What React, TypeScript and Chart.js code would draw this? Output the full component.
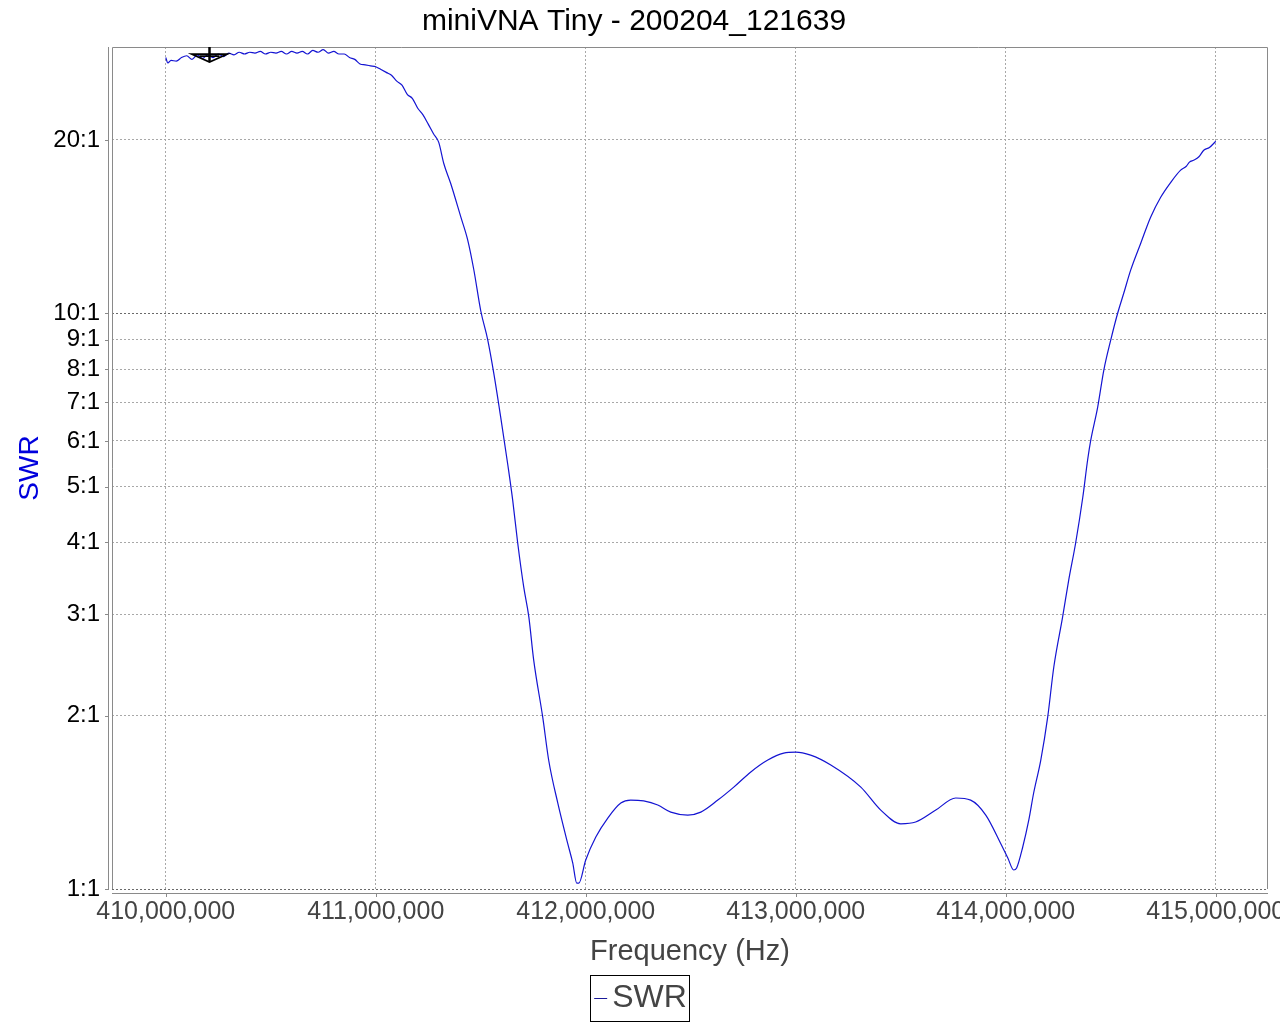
import React, { useEffect, useRef } from 'react';
import { Chart, registerables } from 'chart.js';

Chart.register(...registerables);

const chartTitle = 'miniVNA Tiny - 200204_121639';
const seriesName = 'SWR';
const xAxisTitle = 'Frequency (Hz)';
const yAxisTitle = 'SWR';

// Frequency in MHz
const freqMHz = [
  410.000, 410.010, 410.025, 410.050, 410.075, 410.100, 410.125, 410.150, 410.175, 410.200,
  410.225, 410.250, 410.275, 410.300, 410.325, 410.350, 410.375, 410.400, 410.425, 410.450,
  410.475, 410.500, 410.525, 410.550, 410.575, 410.600, 410.625, 410.650, 410.675, 410.700,
  410.725, 410.750, 410.775, 410.800, 410.825, 410.850, 410.875, 410.900, 410.925, 410.950,
  410.975, 411.000, 411.025, 411.050, 411.075, 411.100, 411.125, 411.150, 411.175, 411.200,
  411.225, 411.250, 411.275, 411.300, 411.324, 411.357, 411.405, 411.438, 411.467, 411.500,
  411.533, 411.562, 411.595, 411.629, 411.652, 411.676, 411.705, 411.729, 411.752, 411.795,
  411.824, 411.867, 411.914, 411.938, 411.957, 411.967, 412.000, 412.048, 412.105, 412.167,
  412.214, 412.276, 412.343, 412.405, 412.486, 412.548, 412.629, 412.705, 412.786, 412.867,
  412.943, 413.000, 413.071, 413.167, 413.310, 413.405, 413.500, 413.571, 413.667, 413.762,
  413.833, 413.905, 413.976, 414.010, 414.038, 414.052, 414.081, 414.110, 414.133, 414.167,
  414.200, 414.229, 414.271, 414.300, 414.333, 414.367, 414.390, 414.405, 414.438, 414.467,
  414.500, 414.533, 414.562, 414.595, 414.643, 414.690, 414.738, 414.786, 414.833, 414.860,
  414.875, 414.895, 414.920, 414.943, 414.970, 415.000,
];

const swr = [
  27.8, 27.2, 27.5, 27.4, 27.8, 28.0, 27.6, 28.1, 27.7, 28.1,
  27.8, 28.2, 27.9, 28.3, 28.1, 28.4, 28.2, 28.4, 28.3, 28.5,
  28.2, 28.4, 28.3, 28.5, 28.2, 28.5, 28.3, 28.5, 28.2, 28.6,
  28.4, 28.7, 28.3, 28.5, 28.2, 28.2, 27.8, 27.6, 27.1, 27.0,
  26.9, 26.8, 26.5, 26.2, 25.9, 25.3, 24.9, 24.0, 23.6, 22.7,
  22.1, 21.3, 20.5, 19.8, 18.2, 16.8, 14.7, 13.4, 11.9, 10.1,
  9.0, 7.87, 6.60, 5.45, 4.74, 3.99, 3.34, 2.97, 2.50, 1.99,
  1.67, 1.41, 1.20, 1.11, 1.024, 1.024, 1.123, 1.231, 1.328, 1.41,
  1.427, 1.422, 1.399, 1.360, 1.344, 1.360, 1.427, 1.503, 1.597, 1.675,
  1.722, 1.729, 1.708, 1.642, 1.503, 1.371, 1.298, 1.307, 1.371, 1.439,
  1.427, 1.344, 1.20, 1.132, 1.079, 1.088, 1.183, 1.318, 1.468, 1.675,
  1.99, 2.43, 2.97, 3.44, 3.99, 4.79, 5.56, 6.02, 6.87, 7.96,
  8.98, 10.0, 10.83, 11.88, 13.23, 14.68, 15.90, 16.88, 17.72, 18.0,
  18.3, 18.44, 18.7, 19.19, 19.4, 19.89,
];

const xTicksMHz = [410, 411, 412, 413, 414, 415];
const yTicks = [1, 2, 3, 4, 5, 6, 7, 8, 9, 10, 20];

const markerFreqMHz = [410.205];
const markerSwr = [27.3];

const FONT = '"Liberation Sans", Arial, Helvetica, sans-serif';
const LINE_COLOR = '#1414d2';
const LEGEND_FONT = 32;
const LEGEND_BOX = 15;

export default function App() {
  const ref = useRef<HTMLCanvasElement>(null);

  useEffect(() => {
    const canvas = ref.current;
    if (!canvas) return;

    const decor = {
      id: 'decor',
      afterDatasetsDraw(chart: any) {
        const { ctx, chartArea: a, scales } = chart;
        const xs = scales.x;
        const ys = scales.y;
        ctx.save();
        ctx.setLineDash([]);
        // plot outline (top, left, right)
        ctx.strokeStyle = '#8a8a8a';
        ctx.lineWidth = 1;
        ctx.beginPath();
        ctx.moveTo(a.left + 0.5, a.bottom);
        ctx.lineTo(a.left + 0.5, a.top + 0.5);
        ctx.lineTo(a.right - 0.5, a.top + 0.5);
        ctx.lineTo(a.right - 0.5, a.bottom);
        ctx.stroke();
        // offset axis lines
        ctx.beginPath();
        ctx.moveTo(a.left - 3.5, a.top);
        ctx.lineTo(a.left - 3.5, a.bottom);
        ctx.moveTo(a.left, a.bottom + 4.5);
        ctx.lineTo(a.right, a.bottom + 4.5);
        // tick marks
        yTicks.forEach((v) => {
          const y = Math.round(ys.getPixelForValue(v)) + 0.5;
          ctx.moveTo(a.left - 7, y);
          ctx.lineTo(a.left - 3, y);
        });
        xTicksMHz.forEach((v) => {
          const x = Math.round(xs.getPixelForValue(v * 1e6)) + 0.5;
          ctx.moveTo(x, a.bottom + 4);
          ctx.lineTo(x, a.bottom + 8);
        });
        ctx.stroke();
        // marker
        ctx.strokeStyle = '#000';
        markerFreqMHz.forEach((f, i) => {
          const mx = Math.round(xs.getPixelForValue(f * 1e6)) + 0.5;
          const my = ys.getPixelForValue(markerSwr[i]);
          ctx.lineWidth = 2.5;
          ctx.beginPath();
          ctx.moveTo(mx, a.top);
          ctx.lineTo(mx, my);
          ctx.stroke();
          ctx.lineWidth = 1.6;
          ctx.beginPath();
          ctx.moveTo(mx - 18, my - 8);
          ctx.lineTo(mx + 18, my - 8);
          ctx.lineTo(mx, my);
          ctx.closePath();
          ctx.moveTo(mx - 10, my - 6);
          ctx.lineTo(mx + 10, my - 6);
          ctx.stroke();
        });
        ctx.restore();
      },
      afterDraw(chart: any) {
        const lg = chart.legend;
        if (!lg || !lg.legendHitBoxes || !lg.legendHitBoxes.length) return;
        const hb = lg.legendHitBoxes[0];
        const { ctx } = chart;
        const textX = hb.left + LEGEND_BOX + LEGEND_FONT / 2;
        ctx.save();
        ctx.setLineDash([]);
        // legend line symbol, just left of the label text
        const cy = Math.round(hb.top + hb.height / 2) + 0.5;
        ctx.strokeStyle = '#1a1a9a';
        ctx.lineWidth = 1;
        ctx.beginPath();
        ctx.moveTo(textX - 18, cy);
        ctx.lineTo(textX - 5, cy);
        ctx.stroke();
        // legend frame
        ctx.strokeStyle = '#000';
        const l = Math.round(textX - 22) + 0.5;
        const r = Math.round(hb.left + hb.width + 2) + 0.5;
        const t = Math.round(hb.top - 7) + 0.5;
        const b = Math.round(hb.top + hb.height + 7) + 0.5;
        ctx.strokeRect(l, t, r - l, b - t);
        ctx.restore();
      },
    };

    const gridColor = (ctx: any) => {
      const v = ctx.tick ? ctx.tick.value : null;
      return v === 10 || v === 1 ? '#6a6a6a' : '#a8a8a8';
    };

    const chart = new Chart(canvas, {
      type: 'line',
      data: {
        datasets: [
          {
            label: seriesName,
            data: freqMHz.map((f, i) => ({ x: f * 1e6, y: swr[i] })),
            borderColor: LINE_COLOR,
            backgroundColor: LINE_COLOR,
            borderWidth: 1.2,
            pointRadius: 0,
            cubicInterpolationMode: 'monotone',
            fill: false,
          },
        ],
      },
      options: {
        animation: false,
        responsive: false,
        maintainAspectRatio: false,
        layout: { padding: { left: 0, right: 12, top: 0, bottom: 0 } },
        plugins: {
          title: {
            display: true,
            text: chartTitle,
            color: '#000',
            font: { family: FONT, size: 30, weight: 'normal' },
            padding: { top: 4, bottom: 7 },
          },
          legend: {
            display: true,
            position: 'bottom',
            labels: {
              color: '#444',
              font: { family: FONT, size: LEGEND_FONT },
              boxWidth: LEGEND_BOX,
              boxHeight: 0,
              padding: 13,
              generateLabels: (chart: any) =>
                chart.data.datasets.map((ds: any, i: number) => ({
                  text: ds.label,
                  fillStyle: 'rgba(0,0,0,0)',
                  strokeStyle: 'rgba(0,0,0,0)',
                  lineWidth: 0,
                  hidden: false,
                  datasetIndex: i,
                  fontColor: '#444',
                })),
            },
          },
          tooltip: { enabled: false },
        },
        scales: {
          x: {
            type: 'linear',
            min: 409.744e6,
            max: 415.249e6,
            afterBuildTicks: (s: any) => {
              s.ticks = xTicksMHz.map((v) => ({ value: v * 1e6 }));
            },
            afterFit: (s: any) => {
              s.height = 80;
              s.paddingLeft = 0;
              s.paddingRight = 0;
            },
            ticks: {
              autoSkip: false,
              maxRotation: 0,
              padding: 8,
              color: '#444',
              font: { family: FONT, size: 25 },
              callback: (v: any) => Math.round(Number(v)).toLocaleString('en-US'),
            },
            grid: { color: '#a8a8a8', lineWidth: 1, drawTicks: false },
            border: { display: false, dash: [2, 2] },
            title: {
              display: true,
              text: xAxisTitle,
              color: '#444',
              font: { family: FONT, size: 29 },
              padding: { top: 0, bottom: 0 },
            },
          },
          y: {
            type: 'logarithmic',
            min: 1,
            max: 29,
            afterBuildTicks: (s: any) => {
              s.ticks = yTicks.map((v) => ({ value: v }));
            },
            afterFit: (s: any) => {
              s.width = 112;
              s.paddingTop = 0;
              s.paddingBottom = 0;
            },
            ticks: {
              autoSkip: false,
              padding: 12,
              color: '#000',
              font: { family: FONT, size: 24 },
              callback: (v: any) => `${v}:1`,
            },
            grid: { color: gridColor, lineWidth: 1, drawTicks: false },
            border: { display: false, dash: [2, 2] },
            title: {
              display: true,
              text: yAxisTitle,
              color: '#0000dd',
              font: { family: FONT, size: 28 },
              padding: { top: 13, bottom: 0 },
            },
          },
        },
      },
      plugins: [decor],
    });

    return () => chart.destroy();
  }, []);

  return (
    <div style={{ position: 'fixed', left: 0, top: 0, width: 1280, height: 1024, background: '#fff' }}>
      <canvas ref={ref} width={1280} height={1024} style={{ display: 'block', width: 1280, height: 1024 }} />
    </div>
  );
}
